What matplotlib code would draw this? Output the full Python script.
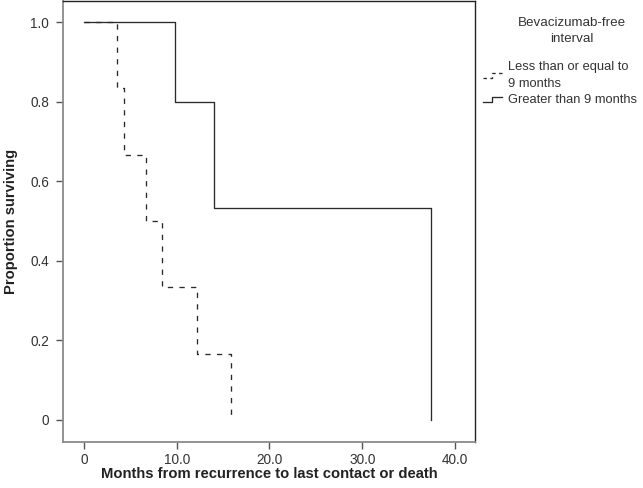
import matplotlib
matplotlib.use("Agg")
import matplotlib.pyplot as plt
from matplotlib.lines import Line2D
from matplotlib.legend_handler import HandlerBase

plt.rcParams['font.family'] = ['Liberation Sans', 'DejaVu Sans']

# Data
short_times = [0, 3.56, 4.31, 6.68, 8.41, 12.18, 15.85]
short_surv = [1.0, 0.833, 0.667, 0.5, 0.333, 0.167, 0.0]
long_times = [0, 9.81, 14.02, 37.38]
long_surv = [1.0, 0.8, 0.533, 0.0]

x_ticks = [0, 10, 20, 30, 40]
x_ticklabels = ["0", "10.0", "20.0", "30.0", "40.0"]
y_ticks = [0, 0.2, 0.4, 0.6, 0.8, 1.0]
y_ticklabels = ["0", "0.2", "0.4", "0.6", "0.8", "1.0"]

legend_title = "Bevacizumab-free\ninterval"
legend_labels = ["Less than or equal to\n9 months", "Greater than 9 months"]

line_color = '#2a2a2a'
text_color = '#333333'


class StepHandler(HandlerBase):
    def create_artists(self, legend, orig_handle, xdescent, ydescent,
                       width, height, fontsize, trans):
        w, h = width, height
        x0, y0 = -xdescent, -ydescent
        xs = [x0, x0 + 0.5 * w, x0 + 0.5 * w, x0 + w]
        ys = [y0 + 0.2 * h, y0 + 0.2 * h, y0 + 0.75 * h, y0 + 0.75 * h]
        ln = Line2D(xs, ys, color=orig_handle.get_color(),
                    linewidth=orig_handle.get_linewidth())
        if orig_handle.get_linestyle() in ('--', 'dashed'):
            ln.set_dashes((2.6, 2.6))
        ln.set_transform(trans)
        return [ln]


fig = plt.figure(figsize=(6.43, 4.88), dpi=100)
ax = fig.add_axes([63 / 643, 46 / 488, (475 - 63) / 643, (442 - 1) / 488])

l1, = ax.step(short_times, short_surv, where='post', color=line_color,
              linewidth=0.95, linestyle='--', dashes=(4.0, 4.8))
l2, = ax.step(long_times, long_surv, where='post', color=line_color,
              linewidth=0.95)

ax.set_xlim(-2.26, 42.16)
ax.set_ylim(-0.0553, 1.0528)
ax.set_xticks(x_ticks)
ax.set_xticklabels(x_ticklabels)
ax.set_yticks(y_ticks)
ax.set_yticklabels(y_ticklabels)

for side in ['left', 'bottom']:
    ax.spines[side].set_color('#8a8a8a')
    ax.spines[side].set_linewidth(1.3)
for side in ['top', 'right']:
    ax.spines[side].set_color('#222222')
    ax.spines[side].set_linewidth(1.0)

ax.tick_params(axis='both', direction='out', length=5, width=1.0,
               color='#555555', labelsize=9.8, labelcolor=text_color)
ax.tick_params(axis='y', pad=5)
ax.tick_params(axis='x', pad=3)

ax.set_xlabel("Months from recurrence to last contact or death",
              fontsize=10.6, fontweight='bold', color='#222222', labelpad=0)
ax.set_ylabel("Proportion surviving", fontsize=10.6, fontweight='bold',
              color='#222222', labelpad=9)

fig.text(572 / 643, 1 - 31 / 488, legend_title, ha='center', va='center',
         multialignment='center', fontsize=9.6, color=text_color,
         linespacing=1.45)

leg = fig.legend([l1, l2], legend_labels,
                 handler_map={l1: StepHandler(), l2: StepHandler()},
                 loc='upper left', bbox_to_anchor=(483 / 643, 1 - 61 / 488),
                 frameon=False, fontsize=9.3,
                 handlelength=1.45, handletextpad=0.5, labelspacing=0.3,
                 borderaxespad=0, borderpad=0)
for t in leg.get_texts():
    t.set_color(text_color)
    t.set_linespacing(1.6)

fig.savefig("out.png", dpi=100)
